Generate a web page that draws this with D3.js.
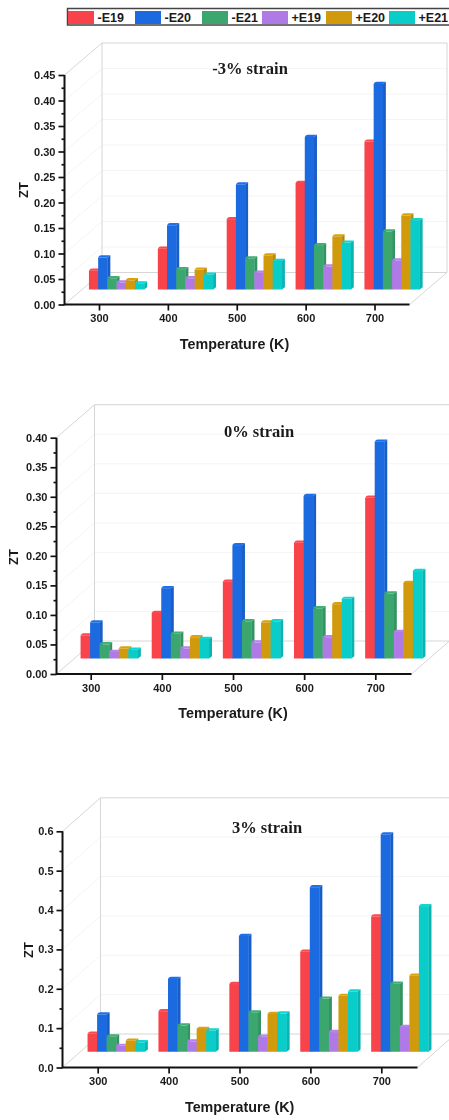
<!DOCTYPE html>
<html>
<head>
<meta charset="utf-8">
<script src="https://cdn.jsdelivr.net/npm/d3@7"></script>
<style>
  body { margin: 0; background: #fff; overflow: hidden; }
  svg { filter: blur(0.35px); }
  text { font-family: "Liberation Sans", Arial, sans-serif; fill: #1a1a1a; }
</style>
</head>
<body>
<script>
var categories = [300, 400, 500, 600, 700];
var seriesNames = ["-E19", "-E20", "-E21", "+E19", "+E20", "+E21"];
var colors = ["#f8434a", "#1b6ae0", "#3ba76e", "#b07ae6", "#d09a0c", "#0accc8"];

// one row per series, one column per temperature
var ztMinus3 = [
    [0.037, 0.080, 0.138, 0.209, 0.290],
    [0.063, 0.126, 0.206, 0.299, 0.403],
    [0.022, 0.040, 0.061, 0.087, 0.114],
    [0.014, 0.022, 0.033, 0.045, 0.057],
    [0.018, 0.039, 0.067, 0.104, 0.145],
    [0.012, 0.029, 0.056, 0.092, 0.136]
];
var ztZero = [
    [0.039, 0.077, 0.130, 0.196, 0.272],
    [0.061, 0.119, 0.192, 0.275, 0.367],
    [0.024, 0.042, 0.063, 0.085, 0.110],
    [0.011, 0.017, 0.027, 0.036, 0.045],
    [0.017, 0.036, 0.061, 0.092, 0.128],
    [0.015, 0.033, 0.063, 0.101, 0.148]
];
var ztPlus3 = [
    [0.046, 0.103, 0.172, 0.254, 0.344],
    [0.095, 0.185, 0.294, 0.418, 0.552],
    [0.039, 0.067, 0.100, 0.135, 0.173],
    [0.015, 0.026, 0.038, 0.050, 0.063],
    [0.028, 0.058, 0.096, 0.142, 0.193],
    [0.024, 0.054, 0.097, 0.153, 0.370]
];
var ticksMinus3 = [0, 0.05, 0.10, 0.15, 0.20, 0.25, 0.30, 0.35, 0.40, 0.45];
var ticksZero = [0, 0.05, 0.10, 0.15, 0.20, 0.25, 0.30, 0.35, 0.40];
var ticksPlus3 = [0, 0.1, 0.2, 0.3, 0.4, 0.5, 0.6];

var svg = d3.select("body").append("svg")
    .attr("width", 449)
    .attr("height", 1120);

// legend strip at the top, runs off the right edge
var legendX = d3.scaleOrdinal().domain(seriesNames).range([68, 135, 202, 262, 326, 389]);
svg.append("rect")
    .attr("x", 67.5).attr("y", 8.5)
    .attr("width", 390).attr("height", 16.5)
    .style("fill", "#fff")
    .style("stroke", "#444")
    .style("stroke-width", 1.5);
var legendItem = svg.selectAll("g.legendItem")
    .data(seriesNames)
    .enter().append("g")
    .attr("class", "legendItem")
    .attr("transform", function(d) { return "translate(" + legendX(d) + ",0)"; });
legendItem.append("rect")
    .attr("y", 11).attr("width", 26).attr("height", 13)
    .style("fill", function(d, i) { return colors[i]; });
legendItem.append("text")
    .attr("x", 29.5).attr("y", 22)
    .style("font-size", "12.5px")
    .style("font-weight", "bold")
    .text(function(d) { return d; });

function panel(o) {
    var g = svg.append("g");

    var y = d3.scaleLinear().domain([0, o.ymax]).range([o.y0, o.y1]);
    var x = d3.scalePoint().domain(categories).range([o.x300, o.x700]);
    var bar = d3.scaleBand().domain(seriesNames)
        .range([-3 * o.step, 3 * o.step]);

    // back wall, floor and side wall
    var wallColor = "#d6d6d6", gridColor = "#f4f4f4";
    o.ticks.forEach(function(t) {
        if (t === 0) return;
        var faint = t === o.ymax ? wallColor : gridColor;
        g.append("line")
            .attr("x1", o.axisX + o.dx).attr("x2", o.axisEnd + o.dx)
            .attr("y1", y(t) - o.dy).attr("y2", y(t) - o.dy)
            .style("stroke", faint);
        g.append("line")
            .attr("x1", o.axisX).attr("x2", o.axisX + o.dx)
            .attr("y1", y(t)).attr("y2", y(t) - o.dy)
            .style("stroke", faint);
    });
    g.append("path")
        .attr("d", "M" + (o.axisX + o.dx) + "," + (y(o.ymax) - o.dy) +
            "V" + (o.y0 - o.dy) + "H" + (o.axisEnd + o.dx) + "V" + (y(o.ymax) - o.dy))
        .style("fill", "none")
        .style("stroke", wallColor);
    g.append("path")
        .attr("d", "M" + o.axisX + "," + o.y0 + "L" + (o.axisX + o.dx) + "," + (o.y0 - o.dy) +
            "M" + o.axisEnd + "," + o.y0 + "L" + (o.axisEnd + o.dx) + "," + (o.y0 - o.dy))
        .style("stroke", wallColor);

    // bars stand halfway back on the floor
    var side = 3, cap = 2.2;
    var midX = o.dx / 2 - 0.5 + o.shift, midY = o.dy / 2 - 1;
    var groups = g.selectAll("g.temp")
        .data(categories)
        .enter().append("g")
        .attr("class", "temp")
        .attr("transform", function(d) { return "translate(" + (x(d) + midX) + ",0)"; });
    seriesNames.forEach(function(name, s) {
        var base = o.y0 - midY;
        var w = bar.bandwidth();
        var shade = d3.color(colors[s]);
        groups.append("path")
            .attr("d", function(d, i) {
                var x0 = bar(name) + w, top = y(o.values[s][i]) - midY;
                return "M" + x0 + "," + top + "L" + (x0 + side) + "," + (top - cap) +
                    "V" + (base - cap) + "L" + x0 + "," + base + "Z";
            })
            .style("fill", shade.darker(0.35));
        groups.append("path")
            .attr("d", function(d, i) {
                var x0 = bar(name), top = y(o.values[s][i]) - midY;
                return "M" + x0 + "," + top + "Q" + (x0 + side - 2) + "," + (top - cap) + " " + (x0 + side) + "," + (top - cap) +
                    "H" + (x0 + w + side) + "L" + (x0 + w) + "," + top + "Z";
            })
            .style("fill", shade.brighter(0.15));
        groups.append("rect")
            .attr("x", bar(name))
            .attr("width", w + 0.3)
            .attr("y", function(d, i) { return y(o.values[s][i]) - midY; })
            .attr("height", function(d, i) { return base - y(o.values[s][i]) + midY; })
            .style("fill", colors[s]);
    });

    // axes
    var minorTicks = d3.pairs(o.ticks).map(function(p) { return (p[0] + p[1]) / 2; });
    var yMinor = g.append("g")
        .attr("transform", "translate(" + o.axisX + ",0)")
        .call(d3.axisLeft(y).tickValues(minorTicks).tickSize(3).tickFormat(""));
    var yAxis = g.append("g")
        .attr("transform", "translate(" + o.axisX + ",0)")
        .call(d3.axisLeft(y).tickValues(o.ticks).tickSize(6).tickPadding(3).tickFormat(d3.format(o.fmt)));
    var xAxis = g.append("g")
        .attr("transform", "translate(0," + o.y0 + ")")
        .call(d3.axisBottom(x).tickSize(6).tickPadding(4));
    [yMinor, yAxis, xAxis].forEach(function(a) {
        a.select(".domain").remove();
        a.selectAll("line").style("stroke", "#111").style("stroke-width", 1.7);
        a.selectAll("text")
            .style("font-family", '"Liberation Sans", Arial, sans-serif')
            .style("font-size", "11px")
            .style("font-weight", "bold")
            .style("fill", "#1a1a1a");
    });
    g.append("path")
        .attr("d", "M" + o.axisX + "," + y(o.ymax) + "V" + o.y0 + "H" + o.axisEnd)
        .style("fill", "none")
        .style("stroke", "#111")
        .style("stroke-width", 2);

    g.append("text")
        .attr("x", o.titleX).attr("y", o.titleY)
        .attr("text-anchor", "middle")
        .style("font-family", '"Liberation Serif", "Times New Roman", serif')
        .style("font-size", "16.5px")
        .style("font-weight", "bold")
        .text(o.title);
    g.append("text")
        .attr("x", o.labelX).attr("y", o.labelY)
        .attr("text-anchor", "middle")
        .style("font-size", "14.3px")
        .style("font-weight", "bold")
        .text("Temperature (K)");
    g.append("text")
        .attr("transform", "translate(" + o.ztX + "," + o.ztY + ") rotate(-90)")
        .attr("text-anchor", "middle")
        .style("font-size", "13px")
        .style("font-weight", "bold")
        .text("ZT");
}

panel({
    values: ztMinus3, ticks: ticksMinus3, ymax: 0.45, fmt: ".2f",
    y0: 304.5, y1: 75, axisX: 64.5, axisEnd: 409.5, x300: 99, x700: 374.5,
    dx: 37.5, dy: 32, step: 9.2, shift: -0.7,
    title: "-3% strain", titleX: 250, titleY: 74,
    labelX: 234.5, labelY: 349, ztX: 28, ztY: 190
});
panel({
    values: ztZero, ticks: ticksZero, ymax: 0.40, fmt: ".2f",
    y0: 674, y1: 437.7, axisX: 56.5, axisEnd: 411.5, x300: 90.7, x700: 375.3,
    dx: 38, dy: 33, step: 9.55, shift: 0,
    title: "0% strain", titleX: 259, titleY: 437,
    labelX: 233, labelY: 718, ztX: 18, ztY: 557
});
panel({
    values: ztPlus3, ticks: ticksPlus3, ymax: 0.6, fmt: ".1f",
    y0: 1067.5, y1: 831.3, axisX: 62.5, axisEnd: 417.5, x300: 97.7, x700: 381.3,
    dx: 38, dy: 33.5, step: 9.55, shift: 0,
    title: "3% strain", titleX: 267, titleY: 833,
    labelX: 239.7, labelY: 1111.5, ztX: 33, ztY: 950
});
</script>
</body>
</html>
